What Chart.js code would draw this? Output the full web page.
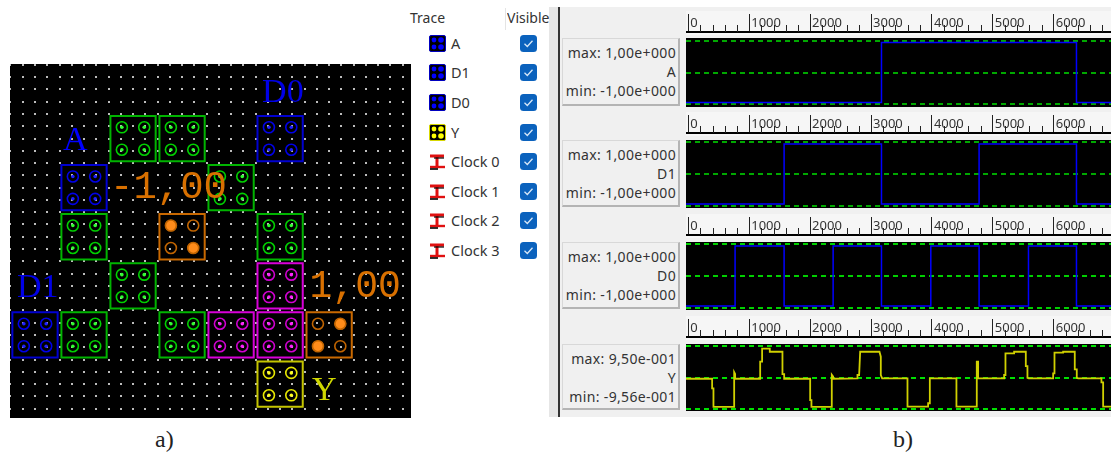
<!DOCTYPE html>
<html>
<head>
<meta charset="utf-8">
<script src="https://cdn.jsdelivr.net/npm/chart.js@4"></script>
<style>
html,body{margin:0;padding:0;background:#fff;overflow:hidden}
body{width:1111px;height:455px;position:relative;font-family:"Noto Sans",sans-serif;color:#333}
canvas{position:absolute}
.abs{position:absolute;white-space:nowrap}
.cap{font:24px "Liberation Serif",serif;color:#222}
#panel{position:absolute;left:558px;top:7px;width:553px;height:410px;background:#f0f0f0;border-left:2px solid #333;box-sizing:border-box}
#sash{position:absolute;left:549px;top:7px;width:9px;height:410px;background:#e6e6e6}
.ruler{position:absolute;left:686px;width:425px;height:24px;background:#f6f6f6}
.box{position:absolute;left:562px;width:118px;box-sizing:border-box;background:#f0f0f0;border:1px solid #d8d8d8;border-right:2px solid #b4b4b4;border-bottom:2px solid #b4b4b4;font-size:14px;letter-spacing:.35px;line-height:19px;text-align:right;padding:4px 2px 0 0;color:#333}
.row{position:absolute;font-size:14.5px;color:#333}
</style>
</head>
<body>
<div id="sash"></div>
<div id="panel"></div>
<canvas id="layout" width="401" height="354" style="left:10px;top:64px"></canvas>

<div class="abs" style="left:410px;top:8px;font-size:14px">Trace</div>
<div class="abs" style="left:505px;top:8px;width:1px;height:22px;background:#e4e4e4"></div>
<div class="abs" style="left:507px;top:8px;width:43px;overflow:hidden;font-size:14px">Visible</div>
<div id="legend"></div>

<div class="cap abs" style="left:155px;top:426px">a)</div>
<div class="cap abs" style="left:893px;top:426px">b)</div>

<script>
// cell layout, in cell columns and rows
const cellCols = [2,3,5, 1,4, 1,3,5, 2,5, 0,1,3,4,5,6, 5]
const cellRows = [1,1,1, 2,2, 3,3,3, 4,4, 5,5,5,5,5,5, 6]
const cellKinds = ["g","g","b", "b","g", "g","o1","g", "g","m", "b","g","g","m","m","o2", "y"]

const labelTexts = ["A","D0","D1","Y","-1,00","1,00"]
const labelCols = [0.571,4.633,-0.367,5.653,1.53,5.6]
const labelRows = [1.234,0.257,4.228,6.326,2.212,4.228]

// simulation traces
const aTimes = [-38,3172,6374,6941]
const aValues = [-1,1,-1,-1]
const d1Times = [-38,1573,3172,4775,6374,6941]
const d1Values = [-1,1,-1,1,-1,-1]
const d0Times = [-38,768,1573,2378,3172,3982,4775,5586,6374,6941]
const d0Values = [-1,1,-1,1,-1,1,-1,1,-1,-1]
const yTimes = [-38,391,391,413,413,753,753,769,769,1180,
1180,1212,1212,1338,1338,1546,1546,1574,1574,2001,
2001,2022,2022,2356,2356,2378,2378,2778,2778,2805,
2822,3139,3161,3161,3183,3599,3599,3938,3938,3966,
3966,4403,4403,4737,4737,4759,4759,5186,5186,5208,
5208,5350,5350,5542,5542,5569,5569,5591,5991,5991,
6013,6013,6155,6155,6346,6346,6379,6379,6401,6784,
6784,6812,6812,6941]
const yValues = [-0.04,-0.04,-0.35,-0.35,-0.95,-0.95,0.17,0.11,-0.04,-0.04,
0.51,0.51,0.93,0.93,0.83,0.83,0.11,0.11,-0.04,-0.04,
-0.73,-0.73,-0.95,-0.95,0.09,0.03,-0.04,-0.03,0.08,0.08,
0.83,0.83,0.67,0.08,-0.03,-0.03,-0.94,-0.94,-0.83,-0.83,
-0.03,-0.03,-0.94,-0.94,0.51,0.51,-0.03,-0.03,0.08,0.08,
0.78,0.78,0.83,0.83,0.37,0.37,-0.01,-0.03,-0.03,0.13,
0.13,0.80,0.80,0.83,0.83,0.26,0.26,-0.01,-0.03,-0.03,
-0.16,-0.16,-0.94,-0.94]

const rulerTicks = [0,200,400,600,800,1000,1200,1400,1600,1800,2000,2200,2400,2600,2800,3000,3200,3400,3600,3800,4000,4200,4400,4600,4800,5000,5200,5400,5600,5800,6000,6200,6400,6600,6800]

const traceNames = ["A","D1","D0","Y","Clock 0","Clock 1","Clock 2","Clock 3"]

const cellColors = {
g:{box:"#00b400",ring:"#00d000",dot:"#30ff30"},
b:{box:"#0000d0",ring:"#0000e8",dot:"#2020ff"},
m:{box:"#d800d8",ring:"#d000d0",dot:"#ff20ff"},
y:{box:"#c4c400",ring:"#e8e800",dot:"#ffff20"},
o1:{box:"#c86800",ring:"#c06400",dot:"#ff8c1a"},
o2:{box:"#c86800",ring:"#c06400",dot:"#ff8c1a"}
}
const labelColors = ["#0000ff","#0000e6","#0000e6","#d0d800","#d87000","#d87000"]
const labelFonts = ['34px "Liberation Serif"','34px "Liberation Serif"','34px "Liberation Serif"','34px "Liberation Serif"','39px "Liberation Mono"','38px "Liberation Mono"']

// the four dots of one cell, in cell units from its centre
const dotOffsets = [[-0.228,-0.228],[0.228,-0.228],[-0.228,0.228],[0.228,0.228]]

function isCharged(kind,i){
if(kind=="o1") return i==0||i==3
if(kind=="o2") return i==1||i==2
return false
}

function cellDots(){
const pts=[],ring=[],fill=[],rad=[]
cellCols.forEach((c,n)=>{
const kind=cellKinds[n]
dotOffsets.forEach((o,i)=>{
pts.push({x:c+o[0],y:cellRows[n]+o[1]})
ring.push(cellColors[kind].ring)
fill.push(cellColors[kind].dot)
rad.push(kind[0]=="o" ? (isCharged(kind,i)?5.8:0) : 1.8)
})
})
return {pts,ring,fill,rad}
}

const layoutPaint = {
id:"layoutPaint",
beforeDatasetsDraw(chart){
const g=chart.ctx, x=chart.scales.x, y=chart.scales.y
g.save()
g.fillStyle="#000"
g.fillRect(0,0,chart.width,chart.height)
g.fillStyle="#bcbcbc"
for(let c=Math.ceil(x.min*4);c<=x.max*4;c++){
for(let r=Math.ceil(y.min*4);r<=y.max*4;r++){
g.fillRect(Math.round(x.getPixelForValue(c/4))-1,Math.round(y.getPixelForValue(r/4))-1,2,2)
}
}
g.restore()
},
afterDatasetsDraw(chart){
const g=chart.ctx, x=chart.scales.x, y=chart.scales.y
g.save()
g.textBaseline="alphabetic"
labelTexts.forEach((t,i)=>{
g.font=labelFonts[i]
g.fillStyle=labelColors[i]
g.fillText(t,x.getPixelForValue(labelCols[i]),y.getPixelForValue(labelRows[i]))
})
g.restore()
}
}

const dots = cellDots()

new Chart(document.getElementById("layout"),{
type:"scatter",
data:{datasets:[
{
data:cellCols.map((c,i)=>({x:c,y:cellRows[i]})),
pointStyle:"rect",
pointRadius:32,
pointBorderWidth:2,
pointBackgroundColor:"transparent",
pointBorderColor:cellKinds.map(k=>cellColors[k].box)
},
{
data:dots.pts,
pointStyle:"circle",
pointRadius:5.5,
pointBorderWidth:1.6,
pointBackgroundColor:"transparent",
pointBorderColor:dots.ring
},
{
data:dots.pts,
pointStyle:"circle",
pointRadius:dots.rad,
pointBorderWidth:0,
pointBackgroundColor:dots.fill
}
]},
plugins:[layoutPaint],
options:{
responsive:false,
animation:false,
layout:{padding:0,autoPadding:false},
plugins:{legend:{display:false},tooltip:{enabled:false}},
scales:{
x:{display:false,type:"linear",min:-0.51,max:7.67},
y:{display:false,type:"linear",reverse:true,min:-0.517,max:6.69}
}
}
})

const tracePaint = {
id:"tracePaint",
beforeDraw(chart,args,opts){
// black plot area, below the gap under the ruler
const g=chart.ctx, a=chart.chartArea
g.save()
g.fillStyle="#000"
g.fillRect(a.left,opts.plotTop,a.right-a.left,a.bottom-opts.plotTop)
g.restore()
},
afterDraw(chart){
// short minor ticks of the ruler
const g=chart.ctx, x=chart.scales.x, a=chart.chartArea
g.save()
g.strokeStyle="#222"
g.lineWidth=1
x.ticks.forEach(t=>{
if(t.value%1000==0) return
const px=Math.round(x.getPixelForValue(t.value))+0.5
g.beginPath()
g.moveTo(px,a.top-7)
g.lineTo(px,a.top)
g.stroke()
})
g.restore()
}
}

function addTrace(name,times,values,opt){
const top=opt.baseline-18
const c=document.createElement("canvas")
c.width=425
c.height=opt.bottom-top
c.style.left="686px"
c.style.top=top+"px"

const band=document.createElement("div")
band.className="ruler"
band.style.top=(top-3)+"px"
document.body.appendChild(band)
document.body.appendChild(c)

const box=document.createElement("div")
box.className="box"
box.style.top=opt.plotTop+"px"
box.style.height=(opt.bottom-opt.plotTop-1)+"px"
box.innerHTML="max: "+opt.maxText+"<br>"+name+"<br>min: "+opt.minText
document.body.appendChild(box)

const zero=(opt.plotTop+opt.bottom)/2
new Chart(c,{
type:"line",
data:{datasets:[{
data:times.map((t,i)=>({x:t,y:values[i]})),
borderColor:opt.color,
borderWidth:opt.width,
pointRadius:0,
stepped:opt.stepped,
tension:0
}]},
plugins:[tracePaint],
options:{
responsive:false,
animation:false,
layout:{padding:0,autoPadding:false},
plugins:{
legend:{display:false},
tooltip:{enabled:false},
tracePaint:{plotTop:opt.plotTop-top}
},
scales:{
x:{
type:"linear",
position:"top",
bounds:"data",
min:-38,
max:6941,
afterBuildTicks(s){s.ticks=rulerTicks.map(v=>({value:v}))},
afterFit(s){s.height=18;s.paddingLeft=0;s.paddingRight=0},
border:{color:"#000",width:2},
grid:{
drawOnChartArea:false,
tickLength:18,
tickColor:ctx=>ctx.tick&&ctx.tick.value%1000==0?"#222":"transparent"
},
ticks:{
autoSkip:false,
maxRotation:0,
minRotation:0,
align:"start",
labelOffset:2,
padding:-17,
color:"#333",
font:{family:"Noto Sans",size:13},
callback:v=>v%1000==0?String(v):""
}
},
y:{
type:"linear",
min:(zero-opt.bottom)/opt.unit,
max:(zero-opt.baseline)/opt.unit,
afterBuildTicks(s){s.ticks=[{value:-opt.dash},{value:0},{value:opt.dash}]},
afterFit(s){s.width=0},
border:{display:false,dash:[5,4]},
grid:{color:opt.gridColor,lineWidth:2,drawTicks:false},
ticks:{display:false}
}
}
}
})
}

addTrace("A",aTimes,aValues,{baseline:32,plotTop:38,bottom:107,unit:30,dash:1.05,color:"#0000ff",width:1.5,stepped:true,gridColor:"#00a800",maxText:"1,00e+000",minText:"-1,00e+000"})
addTrace("D1",d1Times,d1Values,{baseline:133,plotTop:140,bottom:208,unit:30,dash:1.05,color:"#0000ff",width:1.5,stepped:true,gridColor:"#00a800",maxText:"1,00e+000",minText:"-1,00e+000"})
addTrace("D0",d0Times,d0Values,{baseline:235,plotTop:242,bottom:310,unit:30,dash:1.05,color:"#0000ff",width:1.5,stepped:true,gridColor:"#00d000",maxText:"1,00e+000",minText:"-1,00e+000"})
addTrace("Y",yTimes,yValues,{baseline:337,plotTop:344,bottom:411,unit:31,dash:1.02,color:"#d0d000",width:1.8,stepped:false,gridColor:"#00e000",maxText:"9,50e-001",minText:"-9,56e-001"})

// trace list on the left of the waveforms
const cellIcon = (bg,dot)=>'<svg width="17" height="17"><rect x="0.5" y="0.5" width="16" height="16" rx="1.5" fill="#000" stroke="'+bg+'"/>'+
'<circle cx="5" cy="5" r="2.4" fill="'+dot+'"/><circle cx="12" cy="5" r="2.8" fill="'+dot+'"/><circle cx="5" cy="12" r="2.4" fill="'+dot+'"/><circle cx="12" cy="12" r="2.8" fill="'+dot+'"/></svg>'
const clockIcon = '<svg width="17" height="17"><path d="M1 3H15M8 3V14" stroke="#e01010" stroke-width="3" fill="none"/><path d="M1 14H16" stroke="#e01010" stroke-width="2.4"/><path d="M5 5H15" stroke="#000" stroke-width="1.2"/><path d="M1 16H9" stroke="#000" stroke-width="1.6"/></svg>'
const checkIcon = '<svg width="17" height="17"><rect width="17" height="17" rx="3.5" fill="#0b62bd"/><path d="M4.5 8.8L7.3 11.5L12.5 5.8" stroke="#d8e8f8" stroke-width="1.3" fill="none"/></svg>'
const rowTops = [35,64,94,124,153,183,212,242]
traceNames.forEach((name,i)=>{
let icon=clockIcon
if(i<3) icon=cellIcon("#0000c0","#0000ff")
if(i==3) icon=cellIcon("#d8d800","#ffff00")
const top=rowTops[i]
document.getElementById("legend").insertAdjacentHTML("beforeend",
'<div class="abs" style="left:429px;top:'+top+'px;height:17px">'+icon+'</div>'+
'<div class="row abs" style="left:451px;top:'+(top-2)+'px">'+name+'</div>'+
'<div class="abs" style="left:520px;top:'+top+'px;height:17px">'+checkIcon+'</div>')
})
</script>
</body>
</html>
